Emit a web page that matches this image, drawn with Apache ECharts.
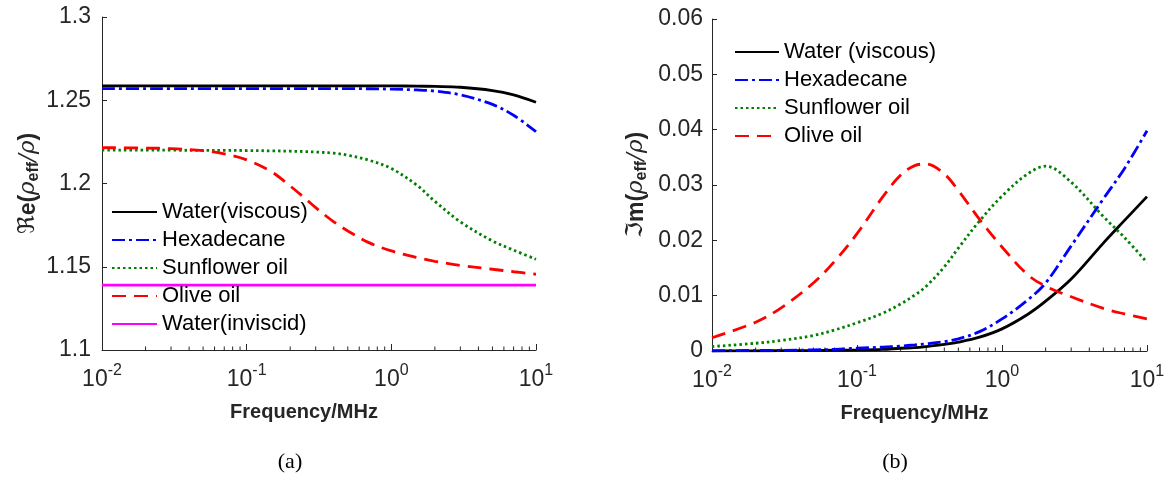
<!DOCTYPE html>
<html>
<head>
<meta charset="utf-8">
<script src="https://cdn.jsdelivr.net/npm/echarts@6/dist/echarts.min.js"></script>
<style>
  html, body { margin: 0; padding: 0; background: #fff; }
  #chart { width: 1170px; height: 480px; }
</style>
</head>
<body>
<div id="chart"></div>
<script>
// Frequency samples (MHz)
const freq = [0.01, 0.02, 0.03, 0.05, 0.07, 0.1, 0.15, 0.2, 0.25, 0.3, 0.4, 0.5, 0.7, 1, 1.5, 2, 3, 5, 7, 10];

// (a) real part of effective density ratio
const reWaterViscous = [1.2586, 1.2586, 1.2586, 1.2586, 1.2586, 1.2586, 1.2586, 1.2586, 1.2586, 1.2586, 1.2586, 1.2586, 1.2586, 1.2586, 1.2585, 1.2583, 1.2578, 1.2558, 1.2532, 1.2488];
const reHexadecane   = [1.2570, 1.2570, 1.2570, 1.2570, 1.2570, 1.2570, 1.2570, 1.2570, 1.2570, 1.2570, 1.2570, 1.2570, 1.2569, 1.2567, 1.2562, 1.2555, 1.2532, 1.2475, 1.2410, 1.2311];
const reSunflower    = [1.2200, 1.2200, 1.2200, 1.2199, 1.2199, 1.2198, 1.2196, 1.2194, 1.2192, 1.2189, 1.2182, 1.2170, 1.2140, 1.2090, 1.1990, 1.1893, 1.1770, 1.1655, 1.1600, 1.1545];
const reOlive        = [1.2215, 1.2213, 1.2209, 1.2197, 1.2178, 1.2142, 1.2068, 1.1985, 1.1915, 1.1855, 1.1770, 1.1715, 1.1645, 1.1595, 1.1555, 1.1533, 1.1508, 1.1485, 1.1470, 1.1455];
const reWaterInviscid= [1.139, 1.139, 1.139, 1.139, 1.139, 1.139, 1.139, 1.139, 1.139, 1.139, 1.139, 1.139, 1.139, 1.139, 1.139, 1.139, 1.139, 1.139, 1.139, 1.139];

// (b) imaginary part of effective density ratio
const imWaterViscous = [0.0000, 0.00003, 0.00006, 0.0001, 0.00015, 0.0002, 0.0003, 0.0005, 0.0006, 0.0008, 0.0012, 0.0016, 0.0025, 0.0040, 0.0066, 0.0090, 0.0130, 0.0195, 0.0236, 0.0279];
const imHexadecane   = [0.00002, 0.0001, 0.0001, 0.0002, 0.0003, 0.0005, 0.0007, 0.0009, 0.0011, 0.0013, 0.0017, 0.0022, 0.0035, 0.0058, 0.0092, 0.0123, 0.0190, 0.0275, 0.0330, 0.0398];
const imSunflower    = [0.0008, 0.0014, 0.0019, 0.0028, 0.0038, 0.0051, 0.0068, 0.0085, 0.0101, 0.0117, 0.0152, 0.0186, 0.0235, 0.0280, 0.0320, 0.0334, 0.0305, 0.0243, 0.0205, 0.0160];
const imOlive        = [0.0024, 0.0052, 0.0078, 0.0123, 0.0162, 0.0212, 0.0278, 0.0318, 0.0335, 0.0338, 0.0320, 0.0290, 0.0238, 0.0188, 0.0138, 0.0117, 0.0098, 0.0077, 0.0067, 0.0058];

// Axis ticks
const reTicks = { min: 1.1, max: 1.3, interval: 0.05 };
const imTicks = { min: 0, max: 0.06, interval: 0.01 };
const minorFreq = [0.02, 0.03, 0.04, 0.05, 0.06, 0.07, 0.08, 0.09,
                   0.2, 0.3, 0.4, 0.5, 0.6, 0.7, 0.8, 0.9,
                   2, 3, 4, 5, 6, 7, 8, 9];

const legendA = ['Water(viscous)', 'Hexadecane', 'Sunflower oil', 'Olive oil', 'Water(inviscid)'];
const legendB = ['Water (viscous)', 'Hexadecane ', 'Sunflower oil ', 'Olive oil '];

const AX = '#262626';
const SANS = '"Liberation Sans", Arial, "DejaVu Sans", sans-serif';

const pairs = (ys) => freq.map((f, i) => [f, ys[i]]);

const styles = {
  water:    { color: '#000000', type: 'solid' },
  hexa:     { color: '#0000ff', type: [13, 4, 3, 4] },
  sun:      { color: '#008000', type: [2.5, 3] },
  olive:    { color: '#ff0000', type: [14, 8] },
  inviscid: { color: '#ff00ff', type: 'solid' }
};

function lineSeries(name, ys, st, idx) {
  return {
    name, type: 'line', xAxisIndex: idx, yAxisIndex: idx,
    data: pairs(ys), symbol: 'none', smooth: 0.35,
    color: st.color,
    lineStyle: { color: st.color, width: 2.8, type: st.type },
    emphasis: { disabled: true }, animation: false
  };
}

function minorTicks(idx, yBase) {
  return {
    type: 'custom', xAxisIndex: idx, yAxisIndex: idx, silent: true, animation: false,
    data: minorFreq.map(f => [f, yBase]),
    renderItem(params, api) {
      const p = api.coord([api.value(0), api.value(1)]);
      return { type: 'line', shape: { x1: p[0], y1: p[1], x2: p[0], y2: p[1] - 3.5 },
               style: { stroke: AX, lineWidth: 1 } };
    }
  };
}

function xAxis(idx) {
  return {
    type: 'log', logBase: 10, min: 0.01, max: 10, gridIndex: idx,
    name: 'Frequency/MHz', nameLocation: 'middle', nameGap: 52,
    nameTextStyle: { fontFamily: SANS, fontWeight: 'bold', fontSize: 20, color: AX, padding: [0, 30, 0, 0] },
    axisLine: { lineStyle: { color: AX, width: 1 } },
    axisTick: { inside: true, length: 6, lineStyle: { color: AX } },
    splitLine: { show: false },
    axisLabel: {
      margin: 13, color: AX,
      formatter: (v) => '{b|10}{s|' + Math.round(Math.log10(v)) + '}',
      rich: {
        b: { fontFamily: SANS, fontSize: 23, color: AX, verticalAlign: 'bottom' },
        s: { fontFamily: SANS, fontSize: 16, color: AX, padding: [0, 0, 12, 0], verticalAlign: 'bottom' }
      }
    }
  };
}

function yAxis(idx, t, nameRich, gap, margin) {
  return {
    type: 'value', gridIndex: idx, min: t.min, max: t.max, interval: t.interval,
    name: nameRich, nameLocation: 'middle', nameGap: gap, nameRotate: 90,
    nameTextStyle: {
      rich: {
        b: { fontFamily: SANS, fontWeight: 'bold', fontSize: 23, color: AX },
        f: { fontFamily: '"DejaVu Sans", sans-serif', fontSize: 23, color: AX },
        i: { fontFamily: '"DejaVu Serif", serif', fontStyle: 'italic', fontSize: 23, color: AX },
        s: { fontFamily: SANS, fontWeight: 'bold', fontSize: 16, color: AX, padding: [11, 0, 0, 0] }
      }
    },
    axisLine: { show: true, lineStyle: { color: AX, width: 1 } },
    axisTick: { show: true, inside: true, length: 5, lineStyle: { color: AX } },
    splitLine: { show: false },
    axisLabel: { margin: margin, fontFamily: SANS, fontSize: 23, color: AX }
  };
}

const legendText = { fontFamily: SANS, fontSize: 22, color: '#000', lineHeight: 24 };

const chart = echarts.init(document.getElementById('chart'), null, { renderer: 'canvas' });

chart.setOption({
  backgroundColor: '#ffffff',
  animation: false,
  grid: [
    { left: 102, right: 634, top: 17, bottom: 130 },
    { left: 712, right: 23, top: 19, bottom: 129 }
  ],
  xAxis: [xAxis(0), xAxis(1)],
  yAxis: [
    yAxis(0, reTicks, '{f|ℜ}{b|e(}{i|ρ}{s|eff}{i|/ρ}{b|)}', 60, 11),
    yAxis(1, imTicks, '{f|ℑ}{b|m(}{i|ρ}{s|eff}{i|/ρ}{b|)}', 62, 9)
  ],
  legend: [
    {
      data: legendA, orient: 'vertical', left: 111, top: 200,
      itemWidth: 45, itemHeight: 14, itemGap: 4, padding: 0,
      itemStyle: { opacity: 0 },
      textStyle: legendText, selectedMode: false
    },
    {
      data: legendB, orient: 'vertical', left: 734, top: 40,
      itemWidth: 44, itemHeight: 14, itemGap: 4, padding: 0,
      itemStyle: { opacity: 0 },
      textStyle: legendText, selectedMode: false
    }
  ],
  graphic: [
    { type: 'text', x: 290, y: 462, style: { text: '(a)', font: '22px "Liberation Serif", "Times New Roman", serif', fill: '#000', align: 'center', verticalAlign: 'middle' } },
    { type: 'text', x: 895, y: 462, style: { text: '(b)', font: '22px "Liberation Serif", "Times New Roman", serif', fill: '#000', align: 'center', verticalAlign: 'middle' } }
  ],
  series: [
    minorTicks(0, reTicks.min),
    minorTicks(1, imTicks.min),
    lineSeries(legendA[0], reWaterViscous, styles.water, 0),
    lineSeries(legendA[1], reHexadecane, styles.hexa, 0),
    lineSeries(legendA[2], reSunflower, styles.sun, 0),
    lineSeries(legendA[3], reOlive, styles.olive, 0),
    lineSeries(legendA[4], reWaterInviscid, styles.inviscid, 0),
    lineSeries(legendB[0], imWaterViscous, styles.water, 1),
    lineSeries(legendB[1], imHexadecane, styles.hexa, 1),
    lineSeries(legendB[2], imSunflower, styles.sun, 1),
    lineSeries(legendB[3], imOlive, styles.olive, 1)
  ]
});
</script>
</body>
</html>
